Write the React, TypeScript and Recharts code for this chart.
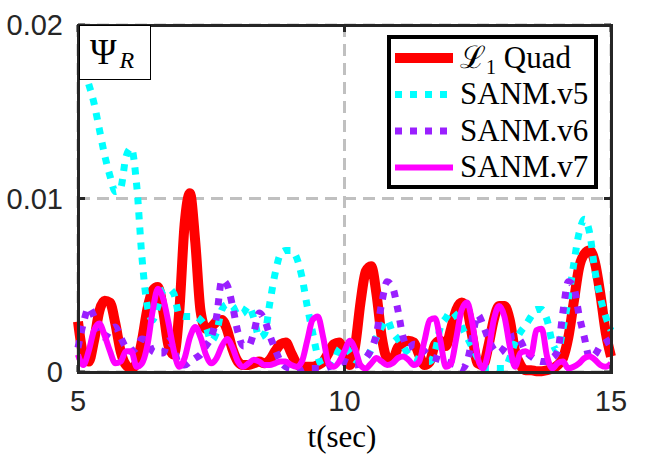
import React from "react";
import { LineChart, Line, XAxis, YAxis, CartesianGrid } from "recharts";

// sample times (sec)
const time = [
  5.0, 5.1, 5.2, 5.3, 5.4, 5.5, 5.6, 5.7, 5.8, 5.9,
  6.0, 6.1, 6.2, 6.3, 6.4, 6.5, 6.6, 6.7, 6.8, 6.9,
  7.0, 7.1, 7.2, 7.3, 7.4, 7.5, 7.6, 7.7, 7.8, 7.9,
  8.0, 8.1, 8.2, 8.3, 8.4, 8.5, 8.6, 8.7, 8.8, 8.9,
  9.0, 9.1, 9.2, 9.3, 9.4, 9.5, 9.6, 9.7, 9.8, 9.9,
  10.0, 10.1, 10.2, 10.3, 10.4, 10.5, 10.6, 10.7, 10.8, 10.9,
  11.0, 11.1, 11.2, 11.3, 11.4, 11.5, 11.6, 11.7, 11.8, 11.9,
  12.0, 12.1, 12.2, 12.3, 12.4, 12.5, 12.6, 12.7, 12.8, 12.9,
  13.0, 13.1, 13.2, 13.3, 13.4, 13.5, 13.6, 13.7, 13.8, 13.9,
  14.0, 14.1, 14.2, 14.3, 14.4, 14.5, 14.6, 14.7, 14.8, 14.9,
  15.0,
];

// values in units of 1e-3
const l1Quad = [
  2.9, 1.0, 0.6, 1.8, 3.5, 4.1, 4.0, 2.8, 1.2, 0.4,
  0.2, 0.5, 1.8, 3.6, 4.7, 4.9, 3.5, 1.5, 1.0, 3.5,
  8.5, 10.3, 7.5, 3.5, 2.5, 2.6, 2.9, 3.0, 2.4, 1.3,
  0.6, 0.4, 0.4, 0.5, 0.6, 0.5, 0.7, 1.2, 1.6, 1.7,
  1.1, 0.5, 0.3, 0.3, 0.3, 0.4, 0.6, 1.1, 1.6, 1.7,
  0.9, 0.4, 1.5, 4.0, 5.8, 6.1, 4.5, 2.0, 0.8, 0.7,
  1.4, 1.7, 1.8, 1.7, 1.0, 0.4, 0.6, 1.6, 1.8, 1.5,
  2.5, 3.6, 4.0, 3.6, 2.0, 0.5, 0.4, 1.5, 3.0, 3.8,
  3.8, 3.0, 1.2, 0.4, 0.1, 0.1, 0.05, 0.05, 0.1, 0.2,
  0.4, 0.8, 2.0, 4.0, 6.0, 6.8, 7.0, 6.3, 4.5, 2.3,
  0.9,
];

const sanmV5 = [
  null, null, 16.6, 15.5, 14.0, 12.5, 11.3, 10.4, 10.6, 12.4,
  12.9, 10.8, 6.6, 3.8, 3.0, 3.8, 4.7, 4.8, 4.5, 3.3,
  3.2, 3.2, 3.2, 3.0, 2.6, 1.8, 2.3, 3.6, 3.9, 3.8,
  3.3, 3.4, 3.8, 3.1, 2.0, 2.2, 4.0, 5.7, 6.8, 7.0,
  7.0, 6.6, 5.5, 3.8, 2.3, 0.9, 0.3, 0.3, 0.6, 1.3,
  1.5, 1.1, 0.7, 0.6, 0.8, 1.3, 2.0, 2.6, 3.0, 2.3,
  1.9, 1.5, 1.0, 0.8, 0.7, 0.6, 0.6, 1.2, 2.6, 3.1,
  3.5, 3.2, 2.6, 2.0, 1.4, 0.8, 0.4, 0.2, 0.2, 0.2,
  0.2, 0.8, 1.7, 2.3, 2.7, 3.2, 3.6, 3.6, 3.0, 1.7,
  1.2, 2.5, 4.2, 6.2, 8.0, 8.8, 8.0, 5.8, 4.3, 3.2,
  2.4,
];

const sanmV6 = [
  1.4, 2.8, 3.7, 3.2, 2.3, 2.0, 2.4, 2.6, 2.0, 1.4,
  1.2, 1.4, 1.9, 1.8, 1.2, 1.1, 1.1, 1.8, 1.3, 0.4,
  0.4, 0.6, 0.8, 1.0, 1.5, 2.0, 3.2, 5.3, 5.0, 3.8,
  2.3, 1.5, 1.5, 2.3, 3.4, 3.0, 2.1, 1.3, 0.6, 0.3,
  0.2, 0.1, 0.1, 0.2, 0.2, 0.2, 0.2, 0.3, 0.4, 0.5,
  0.6, 0.5, 0.4, 0.5, 0.8, 1.3, 2.2, 4.0, 5.2, 4.9,
  3.6, 2.0, 1.4, 1.6, 1.5, 1.2, 0.9, 0.8, 0.7, 0.6,
  0.5, 0.4, 0.2, 0.6, 2.0, 3.3, 2.7, 1.9, 1.3, 1.1,
  1.4, 1.9, 2.1, 1.8, 1.2, 0.9, 0.7, 0.6, 0.6, 0.8,
  1.2, 3.5, 5.2, 4.9, 3.3, 2.0, 0.8, 1.0, 1.5, 1.7,
  1.9,
];

const sanmV7 = [
  1.0, 0.4, 1.2, 2.4, 2.8, 2.1, 1.2, 0.5, 0.6, 1.2,
  1.2, 0.3, 0.5, 1.5, 3.5, 4.8, 4.2, 2.8, 1.2, 0.3,
  0.8, 2.0, 2.6, 2.0, 1.0, 0.5, 0.8, 1.5, 1.9, 1.4,
  0.6, 0.3, 0.5, 0.7, 0.6, 0.4, 0.4, 0.5, 0.6, 0.6,
  0.4, 0.3, 0.6, 1.8, 3.0, 3.2, 2.0, 0.5, 0.3, 0.6,
  1.2, 1.8, 1.3, 0.4, 0.2, 0.5, 0.8, 0.6, 0.4, 0.5,
  0.8, 0.9, 0.7, 0.4, 0.6, 1.8, 3.0, 3.1, 1.8, 0.3,
  0.5, 2.0, 3.6, 4.0, 2.8, 0.8, 0.2, 1.2, 3.0, 3.8,
  3.2, 1.5, 0.3, 1.1, 1.2, 1.0, 2.4, 2.5, 0.9, 0.2,
  0.5, 0.6, 0.2, 0.3, 0.5, 0.8, 0.9, 0.7, 0.4, 0.3,
  0.5,
];

const xTicks = [5, 10, 15];
const yTicks = [0, 0.01, 0.02];
const yTickLabels = ["0", "0.01", "0.02"];

const series = [
  { key: "l1", label: "L1 Quad", color: "#ff0000", width: 10, dash: undefined },
  { key: "v5", label: "SANM.v5", color: "#00ffff", width: 7, dash: "7 8" },
  { key: "v6", label: "SANM.v6", color: "#9a1fff", width: 7, dash: "7 8" },
  { key: "v7", label: "SANM.v7", color: "#ff00ff", width: 6, dash: undefined },
];

const data = time.map((t, i) => ({
  t,
  l1: l1Quad[i] / 1000,
  v5: sanmV5[i] == null ? null : (sanmV5[i] as number) / 1000,
  v6: sanmV6[i] / 1000,
  v7: sanmV7[i] / 1000,
}));

const W = 660;
const H = 454;
const M = { top: 25, right: 49, bottom: 81, left: 77 };
const PLOT_L = 78;
const PLOT_B = 372;
const AXIS = "#262626";
const SANS = "'Liberation Sans', Arial, Helvetica, sans-serif";
const SERIF = "'Liberation Serif', 'DejaVu Serif', 'Times New Roman', serif";

const renderYTick = (props: any) => {
  const { y, payload } = props;
  const idx = yTicks.indexOf(payload.value);
  return (
    <g>
      <line x1={PLOT_L} x2={PLOT_L + 7} y1={y} y2={y} stroke={AXIS} strokeWidth={3} />
      <line x1={W - M.right - 7} x2={W - M.right} y1={y} y2={y} stroke={AXIS} strokeWidth={3} />
      <text x={PLOT_L - 15} y={y} dy="0.36em" textAnchor="end" fontSize={29} fill={AXIS} fontFamily={SANS}>
        {idx >= 0 ? yTickLabels[idx] : payload.value}
      </text>
    </g>
  );
};

const renderXTick = (props: any) => {
  const { x, payload } = props;
  return (
    <g>
      <line x1={x} x2={x} y1={M.top} y2={M.top + 7} stroke={AXIS} strokeWidth={3} />
      <line x1={x} x2={x} y1={PLOT_B - 7} y2={PLOT_B} stroke={AXIS} strokeWidth={3} />
      <text x={x} y={PLOT_B + 18} dy="0.71em" textAnchor="middle" fontSize={29} fill={AXIS} fontFamily={SANS}>
        {payload.value}
      </text>
    </g>
  );
};

const LegendBox = () => (
  <div
    style={{
      position: "absolute",
      left: 387,
      top: 35,
      width: 211,
      height: 154,
      boxSizing: "border-box",
      border: "4px solid #000",
      background: "#fff",
    }}
  >
    <svg width={203} height={146} style={{ display: "block" }}>
      {series.map((s, i) => {
        const cy = 19 + i * 36.5;
        return (
          <g key={s.key}>
            <line
              x1={4}
              x2={62}
              y1={cy}
              y2={cy}
              stroke={s.color}
              strokeWidth={s.width}
              strokeDasharray={s.dash}
            />
            {i === 0 ? (
              <text x={69} y={cy + 9.5} fontSize={31} fontFamily={SERIF} fill="#000">
                <tspan>ℒ</tspan>
                <tspan fontSize={20} dy={6}>1</tspan>
                <tspan dy={-6}> Quad</tspan>
              </text>
            ) : (
              <text x={69} y={cy + 9.5} fontSize={31} fontFamily={SERIF} fill="#000">
                {s.label}
              </text>
            )}
          </g>
        );
      })}
    </svg>
  </div>
);

export default function App() {
  return (
    <div style={{ position: "absolute", left: 0, top: 0, width: W, height: H, background: "#fff" }}>
      <LineChart width={W} height={H} data={data} margin={M}>
        <CartesianGrid stroke="#c0c0c0" strokeWidth={3} strokeDasharray="12 7" />
        <XAxis
          dataKey="t"
          type="number"
          domain={[5, 15]}
          ticks={xTicks}
          height={1}
          axisLine={false}
          tickLine={false}
          tick={renderXTick}
          interval={0}
        />
        <YAxis
          type="number"
          domain={[0, 0.02]}
          ticks={yTicks}
          width={1}
          axisLine={false}
          tickLine={false}
          tick={renderYTick}
          interval={0}
        />
        {series.map(s => (
          <Line
            key={s.key}
            dataKey={s.key}
            type="monotone"
            stroke={s.color}
            strokeWidth={s.width}
            strokeDasharray={s.dash}
            strokeLinejoin="round"
            dot={false}
            activeDot={false}
            isAnimationActive={false}
            connectNulls={false}
          />
        ))}
      </LineChart>

      {/* axes box */}
      <div
        style={{
          position: "absolute",
          left: PLOT_L - 1.5,
          top: M.top - 1.5,
          width: W - M.right - PLOT_L + 3,
          height: PLOT_B - M.top + 3,
          boxSizing: "border-box",
          border: `3px solid ${AXIS}`,
          pointerEvents: "none",
        }}
      />

      {/* Psi_R tag */}
      <div
        style={{
          position: "absolute",
          left: 79,
          top: 25,
          width: 72,
          height: 55,
          boxSizing: "border-box",
          border: "1px solid #000",
          background: "#fff",
        }}
      >
        <svg width={70} height={53} style={{ display: "block" }}>
          <text x={10} y={38} fontSize={36} fontFamily={SERIF} fill="#000">
            Ψ
            <tspan fontSize={24} fontStyle="italic" dx={3} dy={4}>R</tspan>
          </text>
        </svg>
      </div>

      <LegendBox />

      <svg width={W} height={H} style={{ position: "absolute", left: 0, top: 0, pointerEvents: "none" }}>
        <text x={342} y={447} textAnchor="middle" fontSize={31} fontFamily={SERIF} fill="#000">
          t(sec)
        </text>
      </svg>
    </div>
  );
}
